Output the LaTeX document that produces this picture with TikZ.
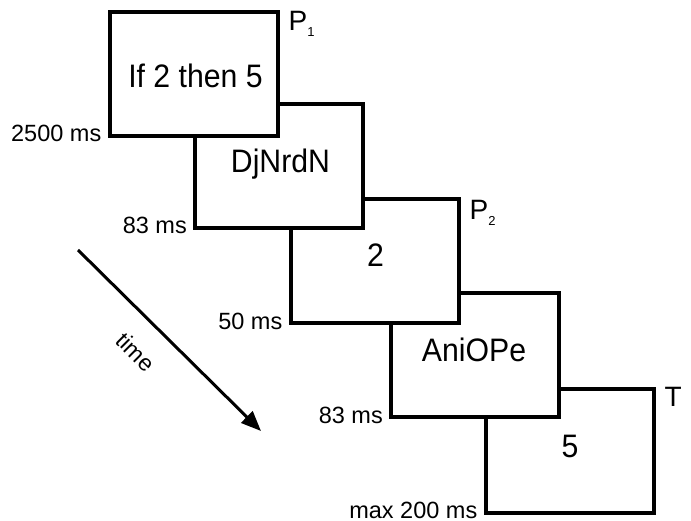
\documentclass[tikz,border=0pt]{standalone}
\usepackage{fontspec}
\setmainfont{Liberation Sans}
\newfontfamily\narrowsans[FakeStretch=0.93]{Liberation Sans}
\usetikzlibrary{arrows.meta}
\begin{document}
\begin{tikzpicture}[x=1pt,y=-1pt,
  trial/.style={draw=black, line width=4pt, fill=white, minimum width=168pt, minimum height=124pt, inner sep=0pt},
  stim/.style={inner sep=0pt, anchor=base, font=\narrowsans\fontsize{32.5}{32.5}\selectfont},
  dur/.style={inner sep=0pt, anchor=base east, font=\fontsize{23.5}{23.5}\selectfont},
  tag/.style={inner sep=0pt, anchor=north west, font=\fontsize{28}{28}\selectfont}]
\useasboundingbox (0,0) rectangle (691,521);
% boxes drawn back to front
\node[trial] (b5) at (569.5,451) {};
\node[trial] (b4) at (475,355) {};
\node[trial] (b3) at (374.5,261.5) {};
\node[trial] (b2) at (279,166) {};
\node[trial] (b1) at (193.5,74) {};
% stimuli
\node[stim] (s1) at (195.5,88) {If 2 then 5};
\node[stim] (s2) at (280.5,173) {DjNrdN};
\node[stim] (s3) at (375.5,267) {2};
\node[stim] (s4) at (474,362) {AniOPe};
\node[stim] (s5) at (570,457) {5};
% durations
\node[dur] (d1) at ([xshift=-6pt,yshift=-4pt]b1.south west) {2500 ms};
\node[dur] (d2) at ([xshift=-6pt,yshift=-4pt]b2.south west) {83 ms};
\node[dur] (d3) at ([xshift=-6pt,yshift=-4pt]b3.south west) {50 ms};
\node[dur] (d4) at ([xshift=-6pt,yshift=-4pt]b4.south west) {83 ms};
\node[dur] (d5) at ([xshift=-6pt,yshift=-3pt]b5.south west) {max 200 ms};
% tags
\node[tag] (p1) at ([xshift=9pt,yshift=-1pt]b1.north east) {P\raisebox{-6pt}{\fontsize{13}{13}\selectfont 1}};
\node[tag] (p2) at ([xshift=9pt,yshift=-3pt]b3.north east) {P\raisebox{-6pt}{\fontsize{13}{13}\selectfont 2}};
\node[tag] (t) at ([xshift=9pt,yshift=-0pt]b5.north east) {T};
% time arrow
\coordinate (ta) at (78,250);
\coordinate (tb) at (261,431);
\draw[line width=3pt, -{Triangle[length=20pt,width=16pt]}] (ta) -- (tb);
\node[inner sep=0pt, rotate=-45, font=\fontsize{23}{23}\selectfont] (tl) at (136,352) {time};
\end{tikzpicture}
\end{document}
